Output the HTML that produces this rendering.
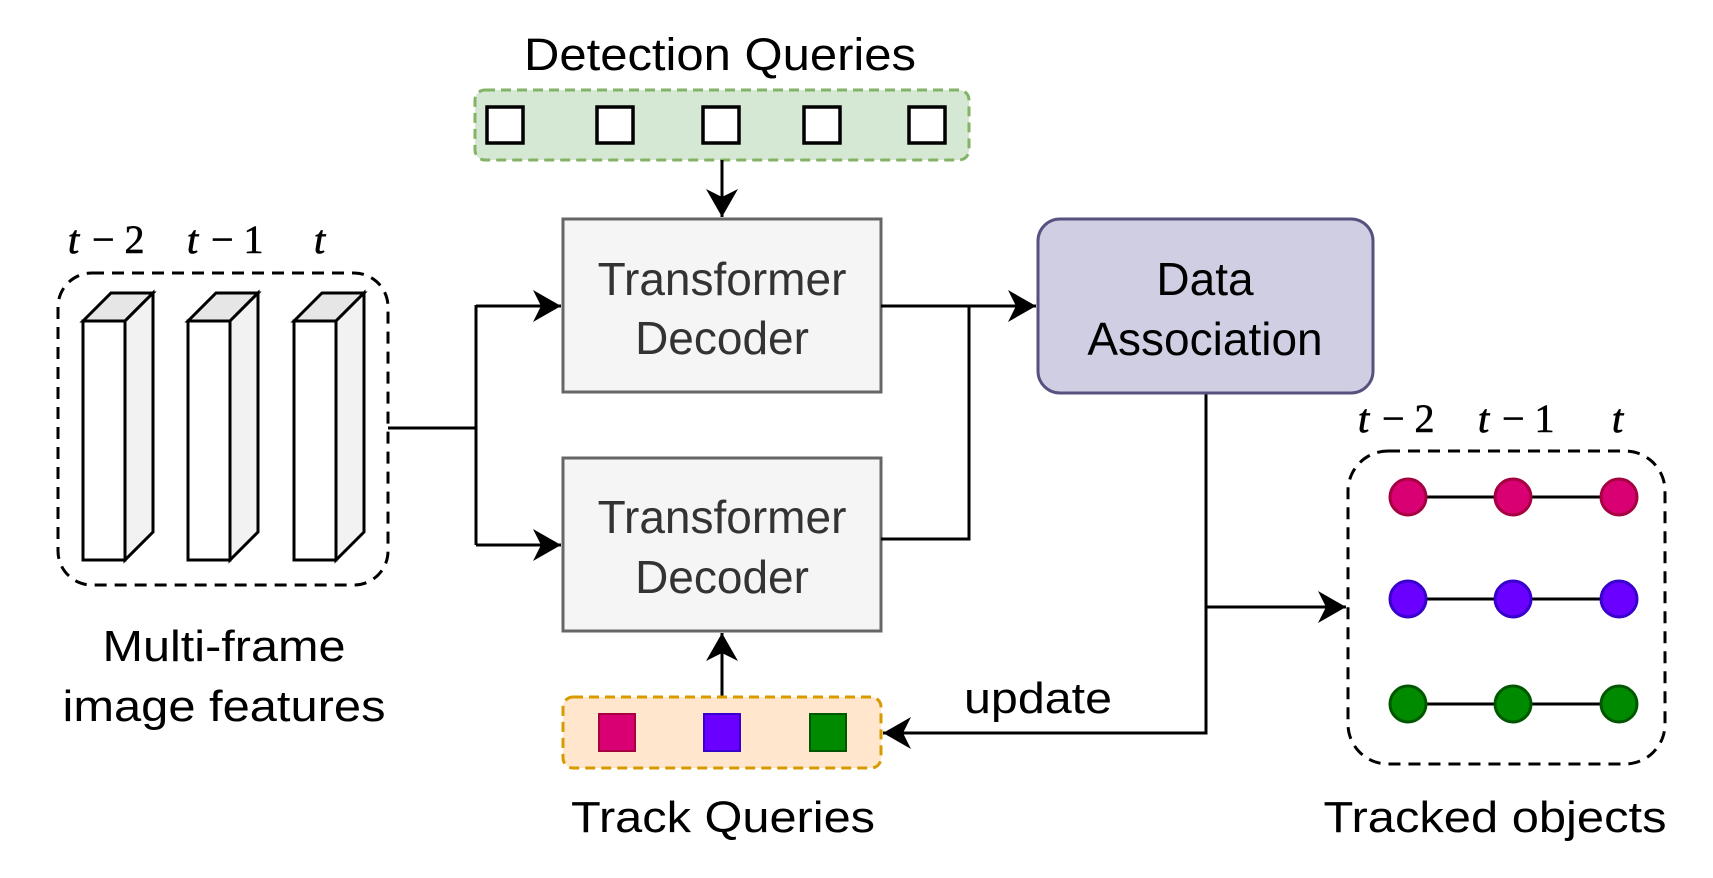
<!DOCTYPE html>
<html><head><meta charset="utf-8"><style>
html,body{margin:0;padding:0;background:#fff;}
svg{display:block;}
text{font-family:"Liberation Sans",sans-serif;}
.m{font-family:"Liberation Serif",serif;font-style:italic;font-size:40px;fill:#000;stroke:#000;stroke-width:0.8;}
.mu{font-family:"Liberation Serif",serif;font-style:normal;font-size:40px;fill:#000;stroke:#000;stroke-width:0.6;}
</style></head><body>
<svg width="1713" height="878" viewBox="0 0 1713 878" xmlns="http://www.w3.org/2000/svg">
<defs>
<marker id="a" markerWidth="32" markerHeight="32" refX="0" refY="0" viewBox="-30 -16 32 32" markerUnits="userSpaceOnUse" orient="auto">
<path d="M0,0 L-28,-16 L-20,0 L-28,16 Z" fill="#000"/>
</marker>
</defs>

<rect x="58" y="273" width="330" height="312" rx="34" fill="none" stroke="#000" stroke-width="3" stroke-dasharray="12 8"/>
<g stroke="#000" stroke-width="3" stroke-linejoin="miter">
<g>
<polygon points="83,321 111,293 153,293 125,321" fill="#e6e6e6"/>
<polygon points="125,321 153,293 153,532 125,560" fill="#f2f2f2"/>
<rect x="83" y="321" width="42" height="239" fill="#fff"/>
</g>
<g>
<polygon points="188,321 216,293 258,293 230,321" fill="#e6e6e6"/>
<polygon points="230,321 258,293 258,532 230,560" fill="#f2f2f2"/>
<rect x="188" y="321" width="42" height="239" fill="#fff"/>
</g>
<g>
<polygon points="294,321 322,293 364,293 336,321" fill="#e6e6e6"/>
<polygon points="336,321 364,293 364,532 336,560" fill="#f2f2f2"/>
<rect x="294" y="321" width="42" height="239" fill="#fff"/>
</g>
</g>
<text x="68" y="253" class="m">t</text><text x="92" y="253" class="mu">− 2</text>
<text x="187" y="253" class="m">t</text><text x="211" y="253" class="mu">− 1</text>
<text x="314" y="253" class="m">t</text>

<text x="224" y="661" font-size="44" text-anchor="middle" textLength="243" lengthAdjust="spacingAndGlyphs">Multi-frame</text>
<text x="224" y="721" font-size="44" text-anchor="middle" textLength="323" lengthAdjust="spacingAndGlyphs">image features</text>

<g stroke="#000" stroke-width="3" fill="none">
<polyline points="388,428 476,428"/>
<polyline points="476,305 476,545"/>
<line x1="476" y1="306" x2="561" y2="306" marker-end="url(#a)"/>
<line x1="476" y1="545" x2="561" y2="545" marker-end="url(#a)"/>
</g>

<text x="720" y="70" font-size="45" text-anchor="middle" textLength="392" lengthAdjust="spacingAndGlyphs">Detection Queries</text>
<rect x="475" y="90" width="494" height="70" rx="10" fill="#d5e8d4" stroke="#82b366" stroke-width="3" stroke-dasharray="10 6"/>
<g fill="#fff" stroke="#000" stroke-width="3.5">
<rect x="487" y="107" width="36" height="36"/>
<rect x="597" y="107" width="36" height="36"/>
<rect x="703" y="107" width="36" height="36"/>
<rect x="804" y="107" width="36" height="36"/>
<rect x="909" y="107" width="36" height="36"/>
</g>
<line x1="722" y1="160" x2="722" y2="217" stroke="#000" stroke-width="3" marker-end="url(#a)"/>

<rect x="563" y="219" width="318" height="173" fill="#f5f5f5" stroke="#666" stroke-width="3"/>
<text x="722" y="295" font-size="46" fill="#333" text-anchor="middle">Transformer</text>
<text x="722" y="354" font-size="46" fill="#333" text-anchor="middle">Decoder</text>
<rect x="563" y="458" width="318" height="173" fill="#f5f5f5" stroke="#666" stroke-width="3"/>
<text x="722" y="533" font-size="46" fill="#333" text-anchor="middle">Transformer</text>
<text x="722" y="593" font-size="46" fill="#333" text-anchor="middle">Decoder</text>

<g stroke="#000" stroke-width="3" fill="none">
<line x1="881" y1="306" x2="1036" y2="306" marker-end="url(#a)"/>
<polyline points="881,539 969,539 969,306"/>
<polyline points="1206,393 1206,733 883,733" marker-end="url(#a)"/>
<line x1="1206" y1="607" x2="1346" y2="607" marker-end="url(#a)"/>
<line x1="722" y1="697" x2="722" y2="633" marker-end="url(#a)"/>
</g>

<rect x="1038" y="219" width="335" height="174" rx="22" fill="#d0cee2" stroke="#56517e" stroke-width="3"/>
<text x="1205" y="295" font-size="46" text-anchor="middle">Data</text>
<text x="1205" y="355" font-size="46" text-anchor="middle">Association</text>

<rect x="563" y="697" width="318" height="71" rx="10" fill="#ffe6cc" stroke="#d79b00" stroke-width="3" stroke-dasharray="10 6"/>
<rect x="599" y="714" width="36" height="37" fill="#d80073" stroke="#a50040" stroke-width="2"/>
<rect x="704" y="714" width="36" height="37" fill="#6a00ff" stroke="#3700cc" stroke-width="2"/>
<rect x="810" y="714" width="36" height="37" fill="#008a00" stroke="#005700" stroke-width="2"/>
<text x="723" y="832" font-size="44" text-anchor="middle" textLength="304" lengthAdjust="spacingAndGlyphs">Track Queries</text>
<text x="964" y="713" font-size="44" textLength="148" lengthAdjust="spacingAndGlyphs">update</text>

<rect x="1348" y="451" width="317" height="313" rx="40" fill="none" stroke="#000" stroke-width="3" stroke-dasharray="12 8"/>
<g stroke="#000" stroke-width="3">
<line x1="1408" y1="497" x2="1619" y2="497"/>
<line x1="1408" y1="599" x2="1619" y2="599"/>
<line x1="1408" y1="704" x2="1619" y2="704"/>
</g>
<g stroke-width="3">
<circle cx="1408" cy="497" r="18" fill="#d80073" stroke="#a50040"/>
<circle cx="1513" cy="497" r="18" fill="#d80073" stroke="#a50040"/>
<circle cx="1619" cy="497" r="18" fill="#d80073" stroke="#a50040"/>
<circle cx="1408" cy="599" r="18" fill="#6a00ff" stroke="#3700cc"/>
<circle cx="1513" cy="599" r="18" fill="#6a00ff" stroke="#3700cc"/>
<circle cx="1619" cy="599" r="18" fill="#6a00ff" stroke="#3700cc"/>
<circle cx="1408" cy="704" r="18" fill="#008a00" stroke="#005700"/>
<circle cx="1513" cy="704" r="18" fill="#008a00" stroke="#005700"/>
<circle cx="1619" cy="704" r="18" fill="#008a00" stroke="#005700"/>
</g>
<text x="1358" y="432" class="m">t</text><text x="1382" y="432" class="mu">− 2</text>
<text x="1478" y="432" class="m">t</text><text x="1502" y="432" class="mu">− 1</text>
<text x="1612" y="432" class="m">t</text>
<text x="1495" y="832" font-size="44" text-anchor="middle" textLength="343" lengthAdjust="spacingAndGlyphs">Tracked objects</text>
</svg>
</body></html>
